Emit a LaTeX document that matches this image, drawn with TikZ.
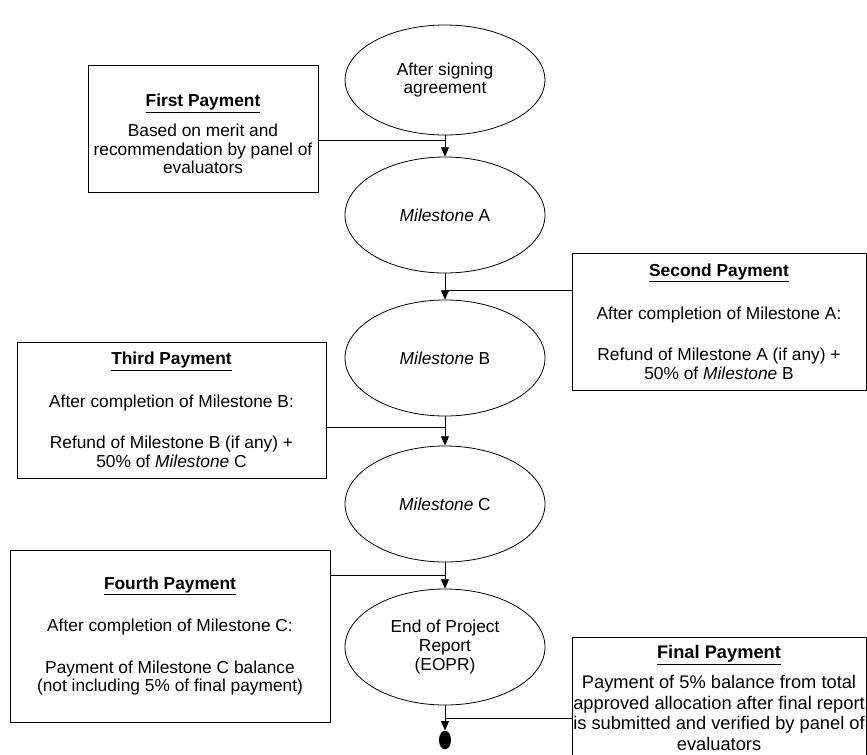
\documentclass[tikz,border=0pt]{standalone}
\usepackage{fontspec}
\setmainfont{Liberation Sans}
\usetikzlibrary{shapes.geometric,arrows.meta}

\begin{document}
\begin{tikzpicture}[x=0.75pt,y=-0.75pt,
    every node/.style={font=\fontsize{13}{14}\selectfont},
    stage/.style={draw, ellipse, line width=0.6pt, minimum width=150pt, minimum height=87pt, inner sep=0pt, align=center},
    paybox/.style={draw, rectangle, line width=0.6pt, inner sep=0pt, align=center},
    flow/.style={line width=0.6pt, -{Triangle[length=7pt,width=6pt]}},
    feed/.style={line width=0.6pt}]
    \useasboundingbox (0,0) rectangle (867,754);
    \clip (0,0) rectangle (867,754);

    \coordinate (jA) at (445,140);
    \coordinate (jB) at (445,290);
    \coordinate (jC) at (445,427);
    \coordinate (jD) at (445,575);
    \coordinate (jE) at (445,718);

    \node[stage, minimum height=82.5pt] (sign) at (445,80) {After signing\\agreement};
    \node[stage] (msA)  at (445,215) {\textit{Milestone} A};
    \node[stage] (msB)  at (445,358) {\textit{Milestone} B};
    \node[stage] (msC)  at (445,504) {\textit{Milestone} C};
    \node[stage] (eopr) at (445,647) {End of Project\\Report\\(EOPR)};
    \node[fill, ellipse, minimum width=9pt, minimum height=14pt, inner sep=0pt] (stop) at (445,740) {};

    \node[paybox, minimum width=172.5pt, minimum height=95.25pt] (first) at (203,128.5) {};
    \node[align=center, inner sep=0pt] (firsttext) at (203,134)
        {\underline{\textbf{First Payment}}\\[7.5pt]
         Based on merit and\\recommendation by panel of\\evaluators};
    \node[paybox, minimum width=220.5pt, minimum height=102.75pt] (second) at (719,321.5)
        {\underline{\textbf{Second Payment}}\\[17pt]
         After completion of Milestone A:\\[17pt]
         Refund of Milestone A (if any) +\\50\% of \textit{Milestone} B};
    \node[paybox, minimum width=231.75pt, minimum height=102pt] (third) at (171.5,410)
        {\underline{\textbf{Third Payment}}\\[17pt]
         After completion of Milestone B:\\[17pt]
         Refund of Milestone B (if any) +\\50\% of \textit{Milestone} C};
    \node[paybox, minimum width=240pt, minimum height=129pt] (fourth) at (170,636)
        {\underline{\textbf{Fourth Payment}}\\[17pt]
         After completion of Milestone C:\\[17pt]
         Payment of Milestone C balance\\(not including 5\% of final payment)};
    \node[paybox, minimum width=220.5pt, anchor=north, inner ysep=6pt,
          font=\fontsize{13.7}{15.5}\selectfont] (final) at (719,637)
        {\underline{\textbf{Final Payment}}\\[7pt]
         Payment of 5\% balance from total\\approved allocation after final report\\is submitted and verified by panel of\\evaluators\\[20pt]\mbox{}};

    \draw[flow] (sign) -- (msA);
    \draw[flow] (msA) -- (msB);
    \draw[flow] (msB) -- (msC);
    \draw[flow] (msC) -- (eopr);
    \draw[flow] (eopr) -- (stop);

    \draw[feed] (first.east |- jA) -- (jA);
    \draw[feed] (second.west |- jB) -- (jB);
    \draw[feed] (third.east |- jC) -- (jC);
    \draw[feed] (fourth.east |- jD) -- (jD);
    \draw[feed] (final.west |- jE) -- (jE);
\end{tikzpicture}
\end{document}
